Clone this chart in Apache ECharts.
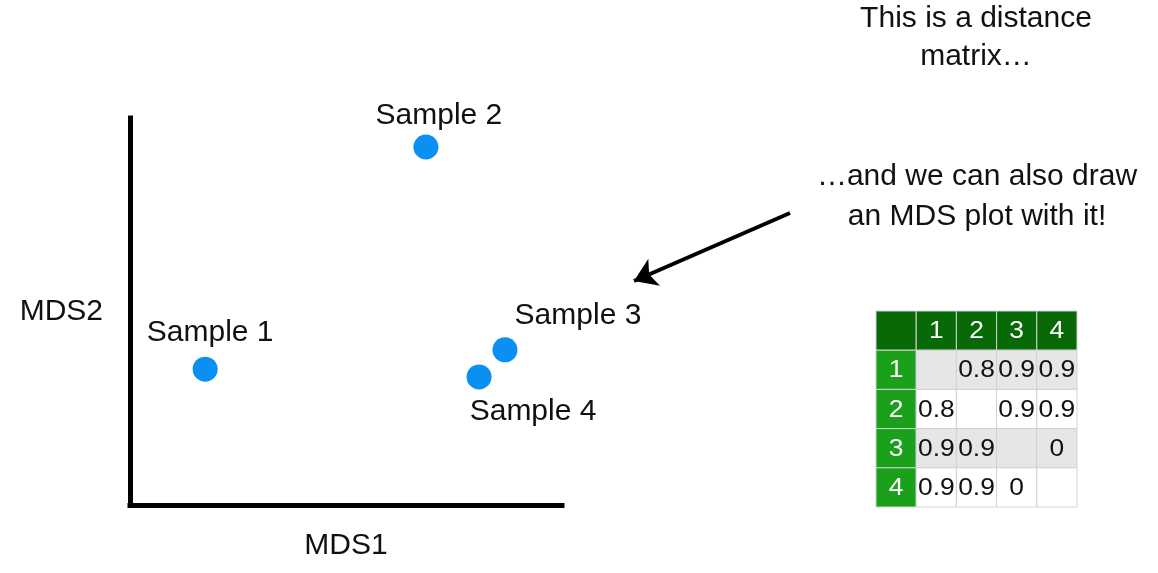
<!DOCTYPE html>
<html>
<head>
<meta charset="utf-8">
<script src="https://cdn.jsdelivr.net/npm/echarts@6/dist/echarts.min.js"></script>
<style>
html,body{margin:0;padding:0;background:#fff;}
#main{width:1158px;height:573px;}
</style>
</head>
<body>
<div id="main"></div>
<script>
// ---- data ----
const sampleNames = ['Sample 1', 'Sample 2', 'Sample 3', 'Sample 4'];
const mds1 = [17.4, 68.5, 86.8, 80.8];
const mds2 = [35.1, 92.5, 40.1, 33.1];
const matrixLabels = ['1', '2', '3', '4'];
const distances = [
  [null, 0.8, 0.9, 0.9],
  [0.8, null, 0.9, 0.9],
  [0.9, 0.9, null, 0],
  [0.9, 0.9, 0, null]
];
const annotationTop = 'This is a distance\nmatrix…';
const annotationMid = '…and we can also draw\nan MDS plot with it!';
const xAxisName = 'MDS1';
const yAxisName = 'MDS2';

// ---- style config ----
const FONT = '"Liberation Sans", Arial, Helvetica, sans-serif';
const labelOffsets = [[5, -36], [13, -31], [73, -34], [54, 35]];

const chart = echarts.init(document.getElementById('main'), null, {renderer: 'canvas'});

const scatterData = sampleNames.map((n, i) => ({
  name: n,
  value: [mds1[i], mds2[i]],
  label: {offset: labelOffsets[i]}
}));

const tableHeader = [''].concat(matrixLabels);
const cells = [];
for (let r = 0; r <= matrixLabels.length; r++) {
  for (let c = 0; c <= matrixLabels.length; c++) {
    let txt = '';
    if (r === 0 && c > 0) txt = matrixLabels[c - 1];
    else if (c === 0 && r > 0) txt = matrixLabels[r - 1];
    else if (r > 0 && c > 0) {
      const v = distances[r - 1][c - 1];
      txt = v === null ? '' : String(v);
    }
    cells.push({value: [c, r], txt: txt});
  }
}

const option = {
  backgroundColor: '#ffffff',
  animation: false,
  textStyle: {fontFamily: FONT},
  grid: [
    {left: 130, top: 118, width: 432, height: 387, outerBoundsMode: 'none', containLabel: false},
    {left: 876, top: 311, width: 201, height: 196, outerBoundsMode: 'none', containLabel: false}
  ],
  xAxis: [
    {
      gridIndex: 0, type: 'value', min: 0, max: 100,
      name: xAxisName, nameLocation: 'middle', nameGap: 26,
      nameTextStyle: {fontSize: 30, color: '#111', fontFamily: FONT},
      axisLine: {show: true, onZero: false, lineStyle: {color: '#000', width: 5, cap: 'square'}},
      axisTick: {show: false}, axisLabel: {show: false}, splitLine: {show: false}
    },
    {
      gridIndex: 1, type: 'category', data: tableHeader, show: false
    }
  ],
  yAxis: [
    {
      gridIndex: 0, type: 'value', min: 0, max: 100,
      name: yAxisName, nameLocation: 'middle', nameGap: 27, nameRotate: 0,
      nameTextStyle: {fontSize: 30, color: '#111', fontFamily: FONT, align: 'right', verticalAlign: 'middle', padding: [4, 0, 0, 0]},
      axisLine: {show: true, onZero: false, lineStyle: {color: '#000', width: 5, cap: 'square'}},
      axisTick: {show: false}, axisLabel: {show: false}, splitLine: {show: false}
    },
    {
      gridIndex: 1, type: 'category', data: tableHeader, inverse: true, show: false
    }
  ],
  series: [
    {
      type: 'scatter',
      xAxisIndex: 0, yAxisIndex: 0,
      symbol: 'circle', symbolSize: 25,
      itemStyle: {color: '#0a90f2', opacity: 1},
      label: {
        show: true, position: 'inside', formatter: '{b}',
        fontSize: 30, color: '#111', fontFamily: FONT,
        align: 'center', verticalAlign: 'middle'
      },
      data: scatterData,
      markLine: {
        silent: true,
        symbol: ['none', 'arrow'],
        symbolSize: 22,
        label: {show: false},
        lineStyle: {color: '#000', width: 4, type: 'solid'},
        data: [[{x: 790, y: 213}, {x: 634, y: 281}]]
      }
    },
    {
      type: 'custom',
      xAxisIndex: 1, yAxisIndex: 1,
      data: cells,
      renderItem: function (params, api) {
        const c = api.value(0), r = api.value(1);
        const center = api.coord([c, r]);
        const size = api.size([1, 1]);
        const w = size[0], h = size[1];
        let fill;
        if (r === 0) fill = '#076a07';
        else if (c === 0) fill = '#1ba01b';
        else fill = (r % 2 === 1) ? '#e6e6e6' : '#ffffff';
        const txt = cells[params.dataIndex].txt;
        const isHead = (r === 0 || c === 0);
        return {
          type: 'group',
          children: [
            {
              type: 'rect',
              shape: {x: center[0] - w / 2, y: center[1] - h / 2, width: w, height: h},
              style: {fill: fill, stroke: '#d2d2d2', lineWidth: 1}
            },
            {
              type: 'text',
              x: center[0], y: center[1] + 1,
              scaleX: 1.1,
              style: {
                text: txt, fontSize: 24, fontFamily: FONT,
                fill: isHead ? '#ffffff' : '#111111',
                align: 'center', verticalAlign: 'middle'
              }
            }
          ]
        };
      }
    }
  ],
  graphic: [
    {
      type: 'text', x: 976, y: 38,
      style: {
        text: annotationTop, fontSize: 30, fontFamily: FONT, fill: '#111',
        align: 'center', verticalAlign: 'middle', lineHeight: 38
      }
    },
    {
      type: 'text', x: 977, y: 197,
      style: {
        text: annotationMid, fontSize: 30, fontFamily: FONT, fill: '#111',
        align: 'center', verticalAlign: 'middle', lineHeight: 40
      }
    }
  ]
};

chart.setOption(option);
</script>
</body>
</html>
